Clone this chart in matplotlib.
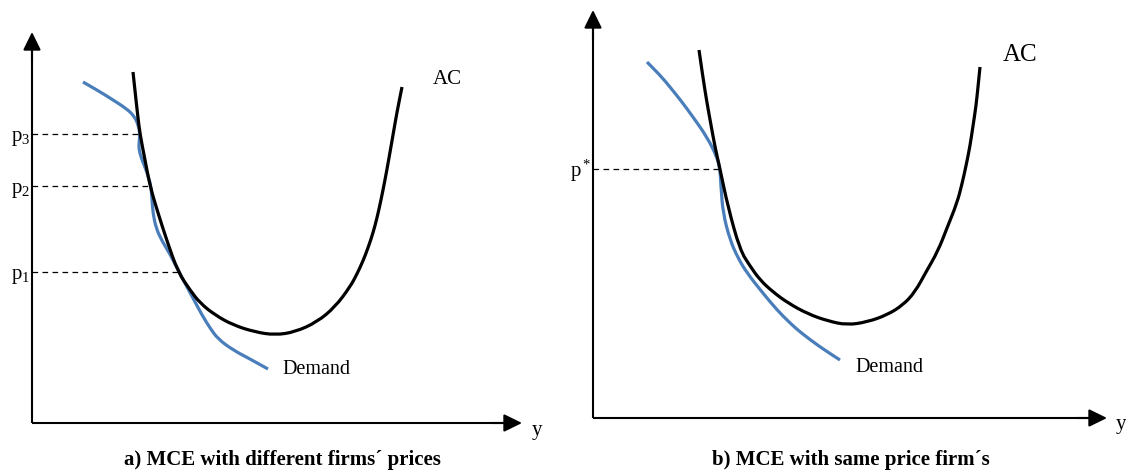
import matplotlib
matplotlib.use("Agg")
import matplotlib.pyplot as plt
from matplotlib.path import Path
from matplotlib.patches import PathPatch

plt.rcParams['font.family'] = ['Liberation Serif', 'DejaVu Serif']
plt.rcParams['mathtext.fontset'] = 'custom'
plt.rcParams['mathtext.rm'] = 'Liberation Serif'
plt.rcParams['mathtext.it'] = 'Liberation Serif:italic'

BLUE = '#4a7ebb'

# panel a: points (quantity, price), origin at the axes corner
ac_a_x = [101, 104, 106, 108, 113, 118, 126, 135, 146, 158, 168, 183, 201, 223, 243,
          263, 285, 303, 318, 325, 331, 336, 341, 345, 349, 353, 357, 361, 365, 370]
ac_a_y = [351, 323, 305, 289, 263, 237, 210, 182, 151, 133, 120, 108, 98, 91, 88,
          91, 101, 116, 136, 149, 162, 175, 190, 205, 223, 243, 265, 288, 311, 336]
dem_a_x = [51, 65, 78, 95, 102, 106, 108, 107, 107, 110, 115, 119, 120, 121, 124, 130,
           138, 146, 154, 162, 170, 178, 186, 201, 218, 236]
dem_a_y = [341, 333, 325, 314, 307, 299, 289, 280, 273, 263, 251, 237, 223, 210, 195, 182,
           169, 153, 138, 123, 108, 95, 84, 73, 64, 54]
prices_a = [289, 237, 151]
price_q_a = [108, 118, 146]
price_labels_a = [r'$\mathrm{p}_3$', r'$\mathrm{p}_2$', r'$\mathrm{p}_1$']

# panel b
ac_b_x = [106, 110, 114, 118, 122, 127, 135, 147, 157, 167, 180, 195, 215, 235, 254, 274,
          294, 310, 322, 333, 345, 354, 364, 369, 373, 377, 380, 383, 385, 387]
ac_b_y = [368, 340, 315, 293, 271, 249, 211, 168, 152, 138, 126, 115, 104, 97, 93, 96,
          103, 113, 126, 146, 167, 190, 215, 234, 252, 272, 292, 312, 331, 351]
dem_b_x = [54, 67, 77, 89, 100, 114, 124, 127, 128, 130, 137, 145, 154, 169, 184, 197,
           207, 227, 247]
dem_b_y = [356, 343, 331, 316, 301, 281, 261, 249, 231, 205, 178, 160, 145, 126, 108, 95,
           86, 71, 58]
prices_b = [249]
price_q_b = [127]
price_labels_b = [r'$\mathrm{p}^*$']


def smooth_curve(ax, xs, ys, color):
    # quadratic bezier pieces through the midpoints, read points as controls
    verts = [(xs[0], ys[0])]
    codes = [Path.MOVETO]
    for i in range(1, len(xs) - 1):
        verts.append((xs[i], ys[i]))
        verts.append(((xs[i] + xs[i + 1]) / 2, (ys[i] + ys[i + 1]) / 2))
        codes += [Path.CURVE3, Path.CURVE3]
    verts.append((xs[-1], ys[-1]))
    codes.append(Path.LINETO)
    ax.add_patch(PathPatch(Path(verts, codes), fill=False, edgecolor=color, lw=2.3,
                           capstyle='butt', joinstyle='round'))


def draw_axes(ax, top, right):
    ax.plot([0, 0], [0, top - 10], color='k', lw=1.5, solid_capstyle='butt')
    ax.plot([0, right - 10], [0, 0], color='k', lw=1.5, solid_capstyle='butt')
    style = dict(arrowstyle='-|>,head_length=0.55,head_width=0.27', color='k',
                 lw=1.5, shrinkA=0, shrinkB=0, mutation_scale=20)
    ax.annotate('', xy=(0, top), xytext=(0, top - 30), arrowprops=style)
    ax.annotate('', xy=(right, 0), xytext=(right - 30, 0), arrowprops=style)


def panel(ax, ac_x, ac_y, dem_x, dem_y, prices, price_q, labels, lab_dy):
    for p, q, lab in zip(prices, price_q, labels):
        ax.plot([0, q], [p, p], color='k', lw=0.9, ls=(0, (4.5, 3.5)))
        ax.text(-2, p + lab_dy, lab, ha='right', va='center', fontsize=15)
    smooth_curve(ax, dem_x, dem_y, BLUE)
    smooth_curve(ax, ac_x, ac_y, 'k')


fig = plt.figure(figsize=(11.26, 4.73), dpi=100)

ax1 = fig.add_axes([0, 0, 560 / 1126, 1])
ax1.set_xlim(-32, 528)
ax1.set_ylim(-50, 423)
ax1.set_axis_off()
draw_axes(ax1, 391, 490)
panel(ax1, ac_a_x, ac_a_y, dem_a_x, dem_a_y, prices_a, price_q_a, price_labels_a, -4)
ax1.text(401, 343, 'AC', ha='left', va='center', fontsize=15)
ax1.text(250, 53, 'Demand', ha='left', va='center', fontsize=14.5)
ax1.text(500, -7, 'y', ha='left', va='center', fontsize=15)
ax1.text(250, -37, 'a) MCE with different firms\u00b4 prices', ha='center', va='center',
         fontsize=15, fontweight='bold')

ax2 = fig.add_axes([560 / 1126, 0, 566 / 1126, 1])
ax2.set_xlim(-33, 533)
ax2.set_ylim(-55, 418)
ax2.set_axis_off()
draw_axes(ax2, 408, 514)
panel(ax2, ac_b_x, ac_b_y, dem_b_x, dem_b_y, prices_b, price_q_b, price_labels_b, -2)
ax2.text(410, 363, 'AC', ha='left', va='center', fontsize=18)
ax2.text(262, 51, 'Demand', ha='left', va='center', fontsize=14.5)
ax2.text(523, -6, 'y', ha='left', va='center', fontsize=15)
ax2.text(258, -42, 'b) MCE with same price firm\u00b4s', ha='center', va='center',
         fontsize=15, fontweight='bold')

fig.savefig('out.png', dpi=100)
